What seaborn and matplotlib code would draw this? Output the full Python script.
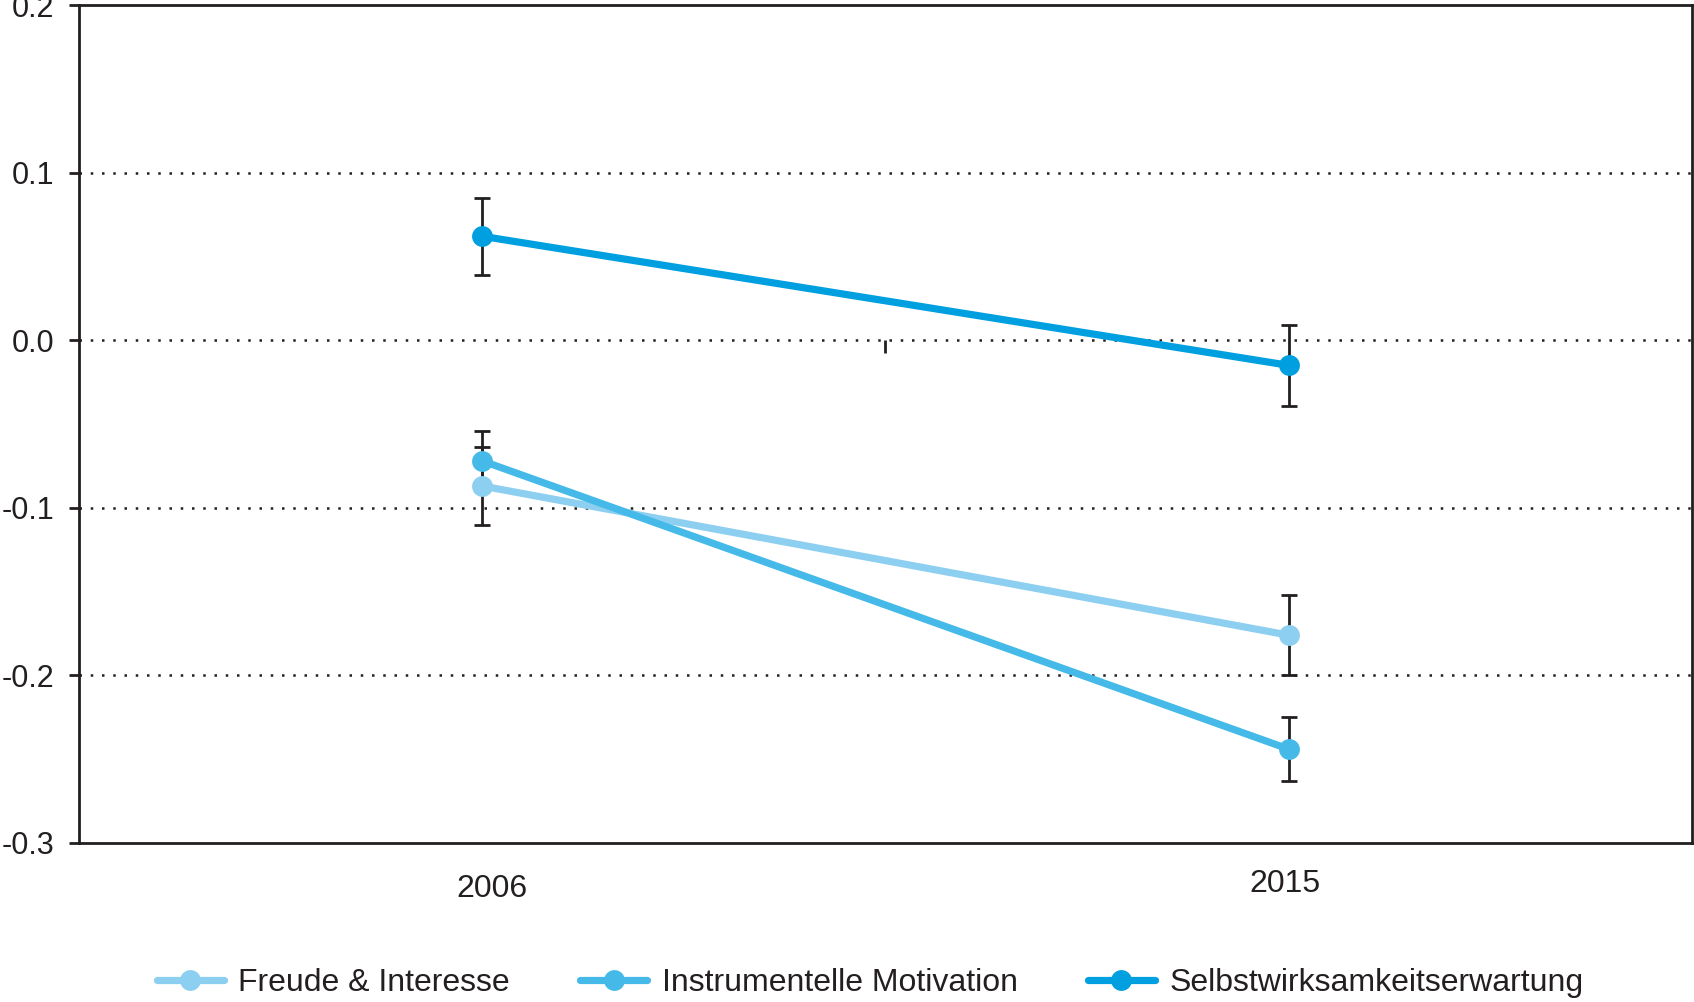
import matplotlib
matplotlib.use("Agg")
import matplotlib.pyplot as plt
import matplotlib.transforms as mtransforms
import seaborn as sns
import pandas as pd
from matplotlib.lines import Line2D

# --- data -------------------------------------------------------------
years = ["2006", "2015"]
series = ["Freude & Interesse", "Instrumentelle Motivation", "Selbstwirksamkeitserwartung"]
freude = [-0.087, -0.176]
freude_err = [0.023, 0.024]
instrumentell = [-0.072, -0.244]
instrumentell_err = [0.018, 0.019]
selbst = [0.062, -0.015]
selbst_err = [0.023, 0.024]
y_ticks = [0.2, 0.1, 0.0, -0.1, -0.2, -0.3]
colors = ["#8DCFF0", "#45BAE8", "#009FE0"]

values = [freude, instrumentell, selbst]
errors = [freude_err, instrumentell_err, selbst_err]

df = pd.DataFrame({
    "Jahr": years * len(series),
    "Wert": [v for vals in values for v in vals],
    "Skala": [s for s in series for _ in years],
})

ink = "#231F20"
sns.set_theme(style="white")
plt.rcParams["font.family"] = ["Liberation Sans", "DejaVu Sans"]
plt.rcParams["text.color"] = ink

fig = plt.figure(figsize=(16.94, 10.02), dpi=100)
ax = fig.add_axes([0.0466, 0.1587, 0.9522, 0.8363])

# error bars first so the markers sit on top
for vals, errs in zip(values, errors):
    ax.errorbar(x=[0, 1], y=vals, yerr=errs, fmt="none", ecolor=ink,
                elinewidth=2, capsize=6, capthick=2, zorder=2)

sns.pointplot(data=df, x="Jahr", y="Wert", hue="Skala", order=years,
              hue_order=series, palette=colors, errorbar=None, markers="o",
              markersize=15, linewidth=5.2, markeredgewidth=0,
              legend=False, ax=ax, zorder=3)

ax.set_xlim(-0.5, 1.5)
ax.set_ylim(-0.3, 0.2)
ax.set_yticks(y_ticks)
ax.set_yticklabels([f"{t:.1f}" for t in y_ticks])
ax.set_xlabel("")
ax.set_ylabel("")

# dotted reference lines
for t in [0.1, 0.0, -0.1, -0.2]:
    ax.axhline(t, color=ink, linestyle=(0, (1, 3.5)), linewidth=1.8, zorder=1)

for sp in ax.spines.values():
    sp.set_color(ink)
    sp.set_linewidth(2)
    sp.set_visible(True)

ax.tick_params(axis="y", which="major", left=True, length=7, width=2,
               color=ink, pad=11, labelsize=22, labelcolor=ink)
ax.tick_params(axis="x", which="major", bottom=False, length=0, pad=22,
               labelsize=23, labelcolor=ink)

# slight individual nudges of the year labels
for lbl, (dx, dy) in zip(ax.get_xticklabels(), [(7, 0), (-3, 3)]):
    lbl.set_transform(lbl.get_transform() +
                      mtransforms.ScaledTranslation(dx / 72, dy / 72, fig.dpi_scale_trans))

# category-axis crossing tick on the zero line
sec = ax.secondary_xaxis((0 - (-0.3)) / 0.5)
sec.set_xticks([0.5])
sec.set_xticklabels([""])
for s in sec.spines.values():
    s.set_visible(False)
sec.tick_params(axis="x", length=9, width=2, color=ink, direction="in")

handles = [Line2D([0], [0], color=c, linewidth=5.2, marker="o",
                  markersize=15, markeredgewidth=0) for c in colors]
fig.legend(handles, series, loc="center", bbox_to_anchor=(0.5136, 0.019),
           ncol=3, frameon=False, fontsize=23, handlelength=2.1,
           handletextpad=0.45, columnspacing=2.2, labelcolor=ink)

fig.savefig("out.png", dpi=100)
